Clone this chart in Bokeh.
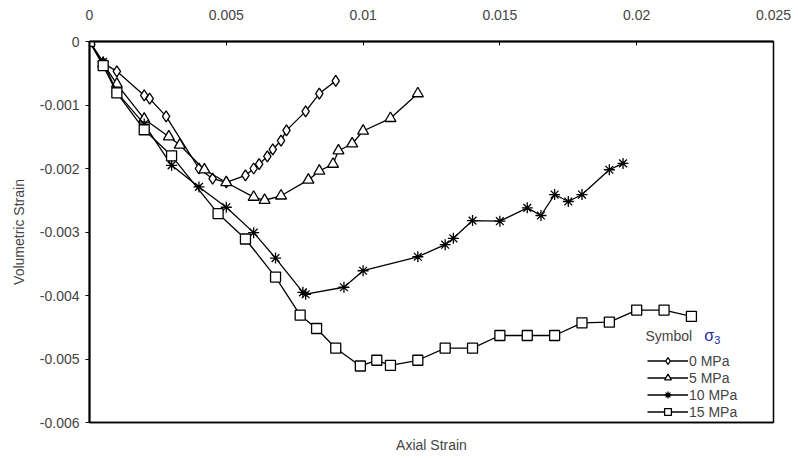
from bokeh.plotting import figure
from bokeh.models import (LinearAxis, FixedTicker, Legend, LegendItem, Label)
from bokeh.embed import file_html
from bokeh.resources import INLINE

# Axial strain (x) and volumetric strain (y) for each confining pressure
axial_0 = [0, 0.0005, 0.001, 0.002, 0.0022, 0.0028, 0.004, 0.0045, 0.005, 0.0057,
           0.006, 0.0062, 0.0065, 0.0067, 0.007, 0.0072, 0.0079, 0.0084, 0.009]
vol_0 = [0, -0.00034, -0.00047, -0.00085, -0.0009, -0.00118, -0.002, -0.00216, -0.00222,
         -0.00211, -0.002, -0.00193, -0.00181, -0.0017, -0.00156, -0.0014, -0.0011,
         -0.00082, -0.00062]

axial_5 = [0, 0.0005, 0.001, 0.002, 0.0029, 0.0033, 0.0042, 0.005, 0.006, 0.0064,
           0.007, 0.008, 0.0084, 0.0089, 0.0091, 0.0096, 0.01, 0.011, 0.012]
vol_5 = [0, -0.00035, -0.00067, -0.00122, -0.0015, -0.00163, -0.00202, -0.00222,
         -0.00245, -0.0025, -0.00243, -0.00218, -0.00204, -0.00193, -0.00172, -0.00161,
         -0.00141, -0.00121, -0.00082]

axial_10 = [0, 0.0005, 0.001, 0.002, 0.003, 0.004, 0.005, 0.006, 0.0068, 0.0078,
            0.0079, 0.0093, 0.01, 0.012, 0.013, 0.0133, 0.014, 0.015, 0.016, 0.0165,
            0.017, 0.0175, 0.018, 0.019, 0.0195]
vol_10 = [0, -0.00032, -0.0008, -0.0013, -0.00195, -0.00229, -0.00261, -0.00301,
          -0.00341, -0.00395, -0.00398, -0.00387, -0.00361, -0.00339, -0.0032, -0.0031,
          -0.00282, -0.00283, -0.00262, -0.00274, -0.00241, -0.00252, -0.00241,
          -0.00202, -0.00192]

axial_15 = [0, 0.0005, 0.001, 0.002, 0.003, 0.0047, 0.0057, 0.0068, 0.0077, 0.0083,
            0.009, 0.0099, 0.0105, 0.011, 0.012, 0.013, 0.014, 0.015, 0.016, 0.017,
            0.018, 0.019, 0.02, 0.021, 0.022]
vol_15 = [0, -0.00038, -0.00081, -0.00139, -0.0018, -0.00271, -0.00311, -0.00371,
          -0.00431, -0.00452, -0.00483, -0.00511, -0.00502, -0.0051, -0.00502, -0.00483,
          -0.00483, -0.00463, -0.00463, -0.00463, -0.00443, -0.00442, -0.00423,
          -0.00423, -0.00433]

series_names = ["0 MPa", "5 MPa", "10 MPa", "15 MPa"]

x_ticks = [0, 0.005, 0.01, 0.015, 0.02, 0.025]
x_tick_labels = ["0", "0.005", "0.01", "0.015", "0.02", "0.025"]
y_ticks = [0, -0.001, -0.002, -0.003, -0.004, -0.005, -0.006]
y_tick_labels = ["0", "-0.001", "-0.002", "-0.003", "-0.004", "-0.005", "-0.006"]

FONT = "Liberation Sans"

p = figure(width=798, height=458, x_range=(0, 0.025), y_range=(-0.006, 0),
           x_axis_location="above", output_backend="svg", toolbar_location=None,
           min_border_left=89, min_border_right=25, min_border_top=41,
           min_border_bottom=36)
p.xgrid.visible = False
p.ygrid.visible = False
p.outline_line_color = "black"
p.outline_line_width = 1.5
p.background_fill_color = "white"
p.border_fill_color = "white"

# top axis: strain ticks pointing into the frame
xa = p.xaxis[0]
xa.ticker = FixedTicker(ticks=x_ticks)
xa.major_label_overrides = dict(zip(x_ticks, x_tick_labels))
xa.major_tick_in = 4
xa.major_tick_out = 0
xa.minor_tick_line_color = None
xa.axis_line_width = 2
xa.major_label_standoff = 22
xa.major_label_text_font = FONT
xa.major_label_text_font_size = "14px"

ya = p.yaxis[0]
ya.ticker = FixedTicker(ticks=y_ticks)
ya.major_label_overrides = dict(zip(y_ticks, y_tick_labels))
ya.major_tick_in = 0
ya.major_tick_out = 4
ya.minor_tick_line_color = None
ya.axis_line_width = 2
ya.major_label_standoff = 6
ya.major_label_text_font = FONT
ya.major_label_text_font_size = "14px"
ya.axis_label = "Volumetric Strain"
ya.axis_label_text_font = FONT
ya.axis_label_text_font_style = "normal"
ya.axis_label_text_font_size = "14px"
ya.axis_label_standoff = 10

# bottom axis carries only the title
xb = LinearAxis(ticker=FixedTicker(ticks=[]), axis_label="Axial Strain",
                axis_label_text_font=FONT, axis_label_text_font_style="normal",
                axis_label_text_font_size="14px", axis_label_standoff=14,
                major_tick_out=0, major_tick_in=0, minor_tick_out=0,
                axis_line_width=1.5)
p.add_layout(xb, "below")

LW = 1.3
styles = [
    (axial_0, vol_0, "diamond", 11),
    (axial_5, vol_5, "triangle", 11),
    (axial_10, vol_10, "asterisk", 11),
    (axial_15, vol_15, "square", 10),
]

items = []
for (xs, ys, marker, size), name in zip(styles, series_names):
    ln = p.line(xs, ys, line_color="black", line_width=LW)
    mk = p.scatter(xs, ys, marker=marker, size=size, line_color="black",
                   line_width=1.3, fill_color="white")
    items.append(LegendItem(label=name, renderers=[ln, mk]))

legend = Legend(items=items, location=(558, 2), orientation="vertical",
                glyph_width=41, glyph_height=17, label_height=17, spacing=0,
                padding=0, margin=0, label_standoff=1,
                label_text_font=FONT, label_text_font_size="14px",
                border_line_alpha=0, background_fill_alpha=0)
p.add_layout(legend)

# legend heading: "Symbol σ3"
p.add_layout(Label(x=0.02032, y=-0.00463, text="Symbol", text_font=FONT,
                   text_font_size="14px", text_baseline="middle"))
p.add_layout(Label(x=0.02247, y=-0.00463, text="σ", text_font=FONT,
                   text_font_size="16px", text_baseline="middle",
                   text_color="#1f1fa8"))
p.add_layout(Label(x=0.02283, y=-0.00470, text="3", text_font=FONT,
                   text_font_size="11px", text_baseline="middle",
                   text_color="#1f1fa8"))

open("out.html", "w").write(file_html(p, INLINE))
